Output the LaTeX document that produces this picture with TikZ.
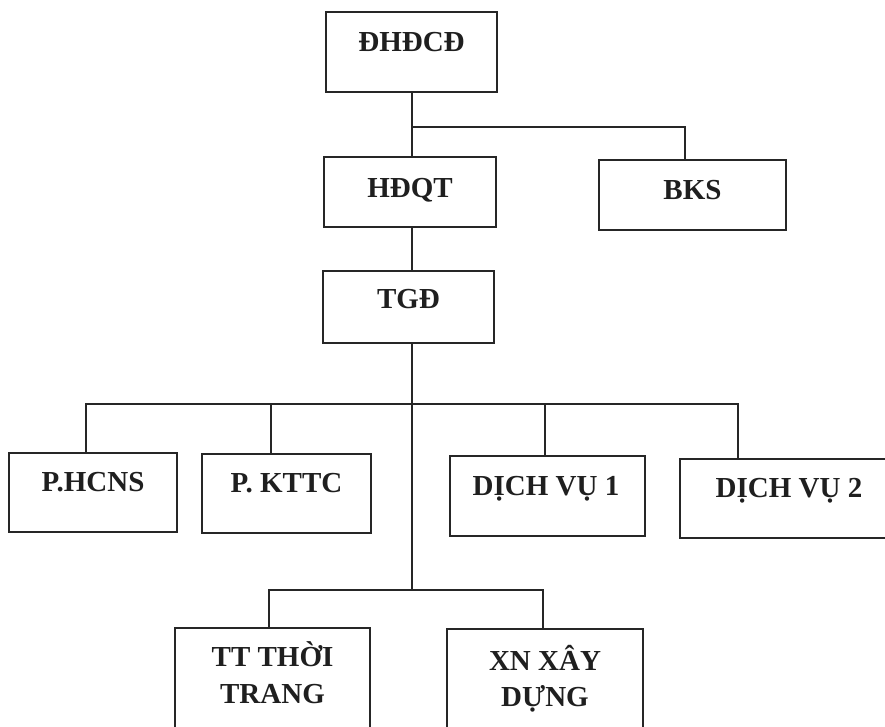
\documentclass[tikz,border=0pt]{standalone}
\usepackage{fontspec}
\setmainfont{Liberation Serif}
\begin{document}
\begin{tikzpicture}[x=1pt,y=-1pt,
  box/.style={draw=black!85,line width=1.5pt,inner sep=0pt,rectangle},
  txt/.style={anchor=base,inner sep=0pt,text=black!88,font=\fontsize{29}{35}\selectfont\bfseries},
  conn/.style={draw=black!85,line width=1.2pt}]
\clip (0,0) rectangle (885,727);
\fill[white] (0,0) rectangle (885,727);
% boxes
\node[box,minimum width=171pt,minimum height=80pt] (dhdcd) at (411.5,52) {};
\node[box,minimum width=172pt,minimum height=70pt] (hdqt) at (410,192) {};
\node[box,minimum width=187pt,minimum height=70pt] (bks) at (692.5,195) {};
\node[box,minimum width=171pt,minimum height=72pt] (tgd) at (408.5,307) {};
\node[box,minimum width=168pt,minimum height=79pt] (hcns) at (93,492.5) {};
\node[box,minimum width=169pt,minimum height=79pt] (kttc) at (286.5,493.5) {};
\node[box,minimum width=195pt,minimum height=80pt] (dv1) at (547.5,496) {};
\node[box,minimum width=218pt,minimum height=79pt] (dv2) at (789,498.5) {};
\node[box,minimum width=195pt,minimum height=130pt] (tttt) at (272.5,693) {};
\node[box,minimum width=196pt,minimum height=130pt] (xnxd) at (545,694) {};
% texts
\node[txt] at (411.5,51.7) {ĐHĐCĐ};
\node[txt] at (410,198) {HĐQT};
\node[txt] at (692.5,200) {BKS};
\node[txt] at (408.5,308) {TGĐ};
\node[txt] at (93,491.7) {P.HCNS};
\node[txt] at (286.5,492.5) {P. KTTC};
\node[txt] at (546,495) {DỊCH VỤ 1};
\node[txt] at (789,497) {DỊCH VỤ 2};
\node[txt] at (272.5,666.7) {TT THỜI};
\node[txt] at (272.5,703) {TRANG};
\node[txt] at (545,670) {XN XÂY};
\node[txt] at (545,706) {DỰNG};
% junctions
\coordinate (j0) at (412,127);
\coordinate (j1) at (412,404);
\coordinate (j2) at (412,590);
% connectors
\draw[conn] (dhdcd.south -| j0) -- (hdqt.north -| j0);
\draw[conn] (j0) -| ([xshift=-7.5pt]bks.north);
\draw[conn] (hdqt.south -| j0) -- (tgd.north -| j0);
\draw[conn] (tgd.south -| j0) -- (j2);
\draw[conn] ([xshift=-7pt]hcns.north) |- (j1) -| ([xshift=-51pt]dv2.north);
\draw[conn] ([xshift=-15.5pt]kttc.north) -- ([xshift=-15.5pt]kttc.north |- j1);
\draw[conn] ([xshift=-2.5pt]dv1.north) -- ([xshift=-2.5pt]dv1.north |- j1);
\draw[conn] ([xshift=-3.5pt]tttt.north) |- (j2) -| ([xshift=-2pt]xnxd.north);
\end{tikzpicture}
\end{document}
